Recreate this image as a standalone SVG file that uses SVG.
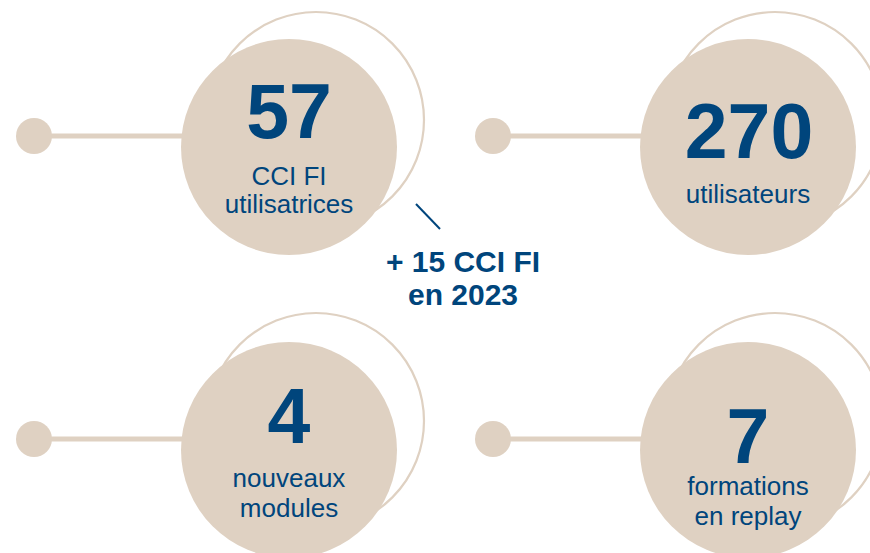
<svg xmlns="http://www.w3.org/2000/svg" width="870" height="553" viewBox="0 0 870 553">
  <style>
    .disc { fill: #DFD1C2; }
    .ring { fill: none; stroke: #DFD1C2; stroke-width: 2.2; }
    .stem { stroke: #DFD1C2; stroke-width: 5; }
    .num { font-family: "Liberation Sans", Arial, sans-serif; font-weight: bold; font-size: 77px; fill: #00457C; text-anchor: middle; }
    .lbl { font-family: "Liberation Sans", Arial, sans-serif; font-size: 26px; fill: #00457C; text-anchor: middle; }
    .note { font-family: "Liberation Sans", Arial, sans-serif; font-weight: bold; font-size: 30px; fill: #00457C; text-anchor: middle; }
  </style>
  <rect width="870" height="553" fill="#FFFFFF"/>

  <g id="connectors">
    <line class="stem" x1="34" y1="136" x2="190" y2="136"/>
    <line class="stem" x1="493" y1="136" x2="648" y2="136"/>
    <line class="stem" x1="34" y1="439" x2="190" y2="439"/>
    <line class="stem" x1="493" y1="439" x2="648" y2="439"/>
    <line x1="416" y1="204" x2="440" y2="229" stroke="#00457C" stroke-width="2"/>
  </g>

  <g id="node-57">
    <circle class="ring" cx="316" cy="120" r="108"/>
    <circle class="disc" cx="34" cy="136" r="18"/>
    <circle class="disc" cx="289" cy="147" r="108"/>
    <text class="num" x="289" y="138">57</text>
    <text class="lbl" x="289" y="185">CCI FI</text>
    <text class="lbl" x="289" y="213">utilisatrices</text>
  </g>

  <g id="node-270">
    <circle class="ring" cx="775" cy="120" r="108"/>
    <circle class="disc" cx="493" cy="136" r="18"/>
    <circle class="disc" cx="748" cy="147" r="108"/>
    <text class="num" x="749" y="158">270</text>
    <text class="lbl" x="748" y="203">utilisateurs</text>
  </g>

  <g id="node-4">
    <circle class="ring" cx="316" cy="421" r="108"/>
    <circle class="disc" cx="34" cy="439" r="18"/>
    <circle class="disc" cx="289" cy="450" r="108"/>
    <text class="num" x="289" y="443">4</text>
    <text class="lbl" x="289" y="487">nouveaux</text>
    <text class="lbl" x="289" y="517">modules</text>
  </g>

  <g id="node-7">
    <circle class="ring" cx="775" cy="421" r="108"/>
    <circle class="disc" cx="493" cy="439" r="18"/>
    <circle class="disc" cx="748" cy="450" r="108"/>
    <text class="num" x="748" y="463">7</text>
    <text class="lbl" x="748" y="495">formations</text>
    <text class="lbl" x="748" y="525">en replay</text>
  </g>

  <g id="note">
    <text class="note" x="463" y="272">+ 15 CCI FI</text>
    <text class="note" x="463" y="305">en 2023</text>
  </g>
</svg>
